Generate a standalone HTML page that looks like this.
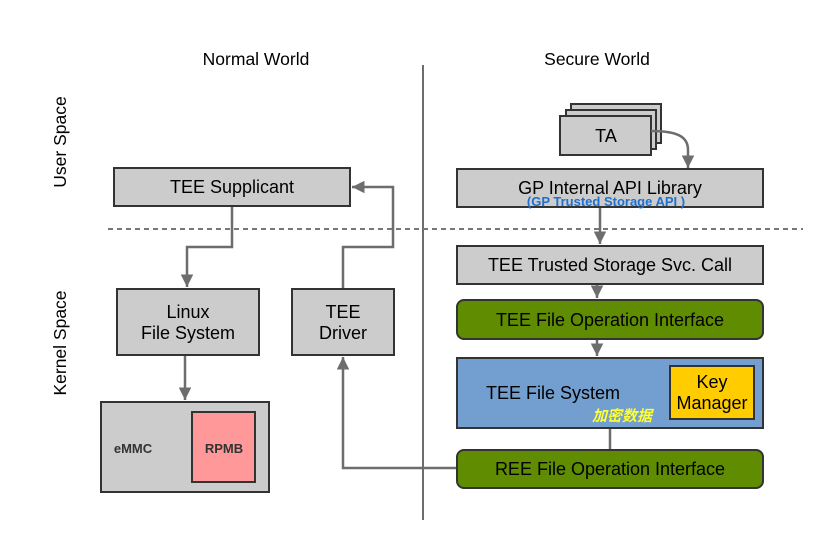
<!DOCTYPE html>
<html><head><meta charset="utf-8"><style>body{margin:0;background:#fff}svg{display:block}</style></head>
<body>
<svg width="838" height="559" viewBox="0 0 838 559" xmlns="http://www.w3.org/2000/svg" font-family="Liberation Sans, sans-serif">
<defs>
<marker id="a" viewBox="0 0 10 10" refX="10" refY="5" markerWidth="5" markerHeight="5" orient="auto"><path d="M0,0L10,5L0,10z" fill="#6d6d6d"/></marker>
</defs>
<g font-size="17.5" fill="#000">
<text x="256" y="65" text-anchor="middle">Normal World</text>
<text x="597" y="65" text-anchor="middle">Secure World</text>
<text transform="translate(66,142) rotate(-90)" text-anchor="middle">User Space</text>
<text transform="translate(66,343) rotate(-90)" text-anchor="middle">Kernel Space</text>
</g>
<line x1="423" y1="65" x2="423" y2="520" stroke="#6d6d6d" stroke-width="2"/>
<line x1="108" y1="229" x2="803" y2="229" stroke="#777" stroke-width="2" stroke-dasharray="5,4"/>
<g stroke="#6d6d6d" stroke-width="2.5" fill="none">
<path d="M232,206V247H187V287" marker-end="url(#a)"/>
<path d="M343,289V247H393V187H352" marker-end="url(#a)"/>
<path d="M185,355V400" marker-end="url(#a)"/>
<path d="M457,468H343V357" marker-end="url(#a)"/>
<path d="M600,207V244" marker-end="url(#a)"/>
<path d="M597,284V298" marker-end="url(#a)"/>
<path d="M597,339V356" marker-end="url(#a)"/>
<path d="M610,428V450"/>
</g>
<g stroke="#333" stroke-width="2" fill="#cccccc">
<rect x="114" y="168" width="236" height="38"/>
<rect x="117" y="289" width="142" height="66"/>
<rect x="292" y="289" width="102" height="66"/>
<rect x="101" y="402" width="168" height="90"/>
<rect x="192" y="412" width="63" height="70" fill="#ff9999"/>
<rect x="571" y="104" width="90" height="39"/>
<rect x="566" y="110" width="90" height="39"/>
<rect x="560" y="116" width="91" height="39"/>
<rect x="457" y="169" width="306" height="38"/>
<rect x="457" y="246" width="306" height="38"/>
<rect x="457" y="300" width="306" height="39" rx="7" fill="#5f8c00"/>
<rect x="457" y="358" width="306" height="70" fill="#729fcf"/>
<rect x="670" y="366" width="84" height="53" fill="#ffcc00"/>
<rect x="457" y="450" width="306" height="38" rx="7" fill="#5f8c00"/>
</g>
<path d="M651,131C680,131 688,138 688,150V168" stroke="#6d6d6d" stroke-width="2.5" fill="none" marker-end="url(#a)"/>
<g font-size="18" fill="#000" text-anchor="middle">
<text x="232" y="193">TEE Supplicant</text>
<text x="188" y="318">Linux</text>
<text x="188" y="339">File System</text>
<text x="343" y="318">TEE</text>
<text x="343" y="339">Driver</text>
<text x="606" y="142">TA</text>
<text x="610" y="194">GP Internal API Library</text>
<text x="610" y="271">TEE Trusted Storage Svc. Call</text>
<text x="610" y="326">TEE File Operation Interface</text>
<text x="553" y="399">TEE File System</text>
<text x="712" y="388">Key</text>
<text x="712" y="409">Manager</text>
<text x="610" y="475">REE File Operation Interface</text>
</g>
<text x="606" y="206" font-size="13" font-weight="bold" fill="#1f6fd0" text-anchor="middle">(GP Trusted Storage API )</text>
<text x="133" y="453" font-size="13" font-weight="bold" fill="#333" text-anchor="middle">eMMC</text>
<text x="224" y="453" font-size="13" font-weight="bold" fill="#333" text-anchor="middle">RPMB</text>
<text x="622" y="421" font-size="15" font-weight="bold" font-style="italic" fill="#ffff33" text-anchor="middle" font-family="Liberation Sans, Noto Sans CJK SC, sans-serif">加密数据</text>
</svg>
</body></html>
